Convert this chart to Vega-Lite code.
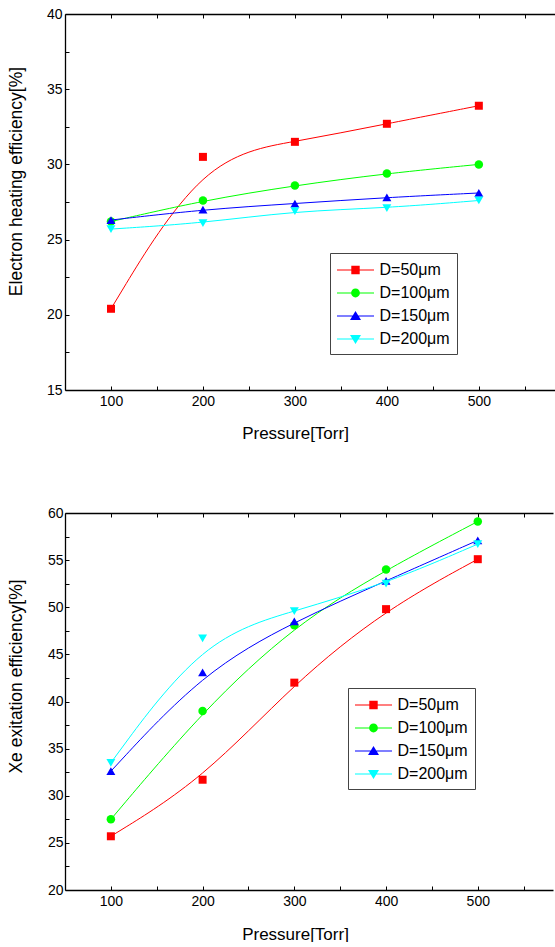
{
  "$schema": "https://vega.github.io/schema/vega-lite/v6.json",
  "padding": {"left": 7, "top": 7, "right": 0, "bottom": 0},
  "background": "white",
  "config": {
    "font": "Liberation Sans",
    "view": {"stroke": null},
    "axis": {
      "grid": false,
      "domainColor": "#000",
      "domainWidth": 1.3,
      "tickColor": "#000",
      "tickWidth": 1,
      "labelColor": "#000",
      "titleColor": "#000",
      "labelFontSize": 14,
      "titleFontSize": 17,
      "titleFontWeight": "normal",
      "labelFont": "Liberation Sans",
      "titleFont": "Liberation Sans",
      "labelFlush": false,
      "labelOverlap": false
    },
    "legend": {
      "labelFontSize": 16,
      "labelFont": "Liberation Sans",
      "labelColor": "#000",
      "symbolSize": 400,
      "symbolStrokeWidth": 0,
      "symbolOpacity": 1,
      "symbolOffset": 8.5,
      "strokeColor": "#444",
      "padding": 7,
      "rowPadding": 5,
      "labelOffset": 14
    }
  },
  "datasets": {
    "a": [
      {"pressure": 100, "value": 20.4, "series": "D=50μm"},
      {"pressure": 200, "value": 30.5, "series": "D=50μm"},
      {"pressure": 300, "value": 31.5, "series": "D=50μm"},
      {"pressure": 400, "value": 32.7, "series": "D=50μm"},
      {"pressure": 500, "value": 33.9, "series": "D=50μm"},
      {"pressure": 100, "value": 26.2, "series": "D=100μm"},
      {"pressure": 200, "value": 27.6, "series": "D=100μm"},
      {"pressure": 300, "value": 28.6, "series": "D=100μm"},
      {"pressure": 400, "value": 29.4, "series": "D=100μm"},
      {"pressure": 500, "value": 30.0, "series": "D=100μm"},
      {"pressure": 100, "value": 26.3, "series": "D=150μm"},
      {"pressure": 200, "value": 27.0, "series": "D=150μm"},
      {"pressure": 300, "value": 27.4, "series": "D=150μm"},
      {"pressure": 400, "value": 27.8, "series": "D=150μm"},
      {"pressure": 500, "value": 28.1, "series": "D=150μm"},
      {"pressure": 100, "value": 25.7, "series": "D=200μm"},
      {"pressure": 200, "value": 26.1, "series": "D=200μm"},
      {"pressure": 300, "value": 26.9, "series": "D=200μm"},
      {"pressure": 400, "value": 27.1, "series": "D=200μm"},
      {"pressure": 500, "value": 27.6, "series": "D=200μm"}
    ],
    "b": [
      {"pressure": 100, "value": 25.7, "series": "D=50μm"},
      {"pressure": 200, "value": 31.7, "series": "D=50μm"},
      {"pressure": 300, "value": 42.0, "series": "D=50μm"},
      {"pressure": 400, "value": 49.8, "series": "D=50μm"},
      {"pressure": 500, "value": 55.1, "series": "D=50μm"},
      {"pressure": 100, "value": 27.5, "series": "D=100μm"},
      {"pressure": 200, "value": 39.0, "series": "D=100μm"},
      {"pressure": 300, "value": 48.1, "series": "D=100μm"},
      {"pressure": 400, "value": 54.0, "series": "D=100μm"},
      {"pressure": 500, "value": 59.1, "series": "D=100μm"},
      {"pressure": 100, "value": 32.6, "series": "D=150μm"},
      {"pressure": 200, "value": 43.1, "series": "D=150μm"},
      {"pressure": 300, "value": 48.5, "series": "D=150μm"},
      {"pressure": 400, "value": 52.8, "series": "D=150μm"},
      {"pressure": 500, "value": 57.1, "series": "D=150μm"},
      {"pressure": 100, "value": 33.5, "series": "D=200μm"},
      {"pressure": 200, "value": 46.7, "series": "D=200μm"},
      {"pressure": 300, "value": 49.6, "series": "D=200μm"},
      {"pressure": 400, "value": 52.5, "series": "D=200μm"},
      {"pressure": 500, "value": 56.7, "series": "D=200μm"}
    ]
  },
  "spacing": 65,
  "resolve": {"scale": {"color": "independent", "shape": "independent"}, "legend": {"color": "independent", "shape": "independent"}},
  "vconcat": [
    {
      "width": 492,
      "height": 376,
      "data": {"name": "a"},
      "layer": [
        {
          "transform": [{"filter": "datum.series === 'D=50μm'"}],
          "mark": {"type": "line", "interpolate": "basis", "strokeWidth": 1, "color": "#ff0000", "point": {"filled": true, "shape": "square", "size": 64, "color": "#ff0000"}},
          "encoding": {
            "x": {"field": "pressure", "type": "quantitative", "scale": {"domain": [50, 585], "nice": false, "zero": false},
              "axis": {"orient": "bottom", "values": [100, 150, 200, 250, 300, 350, 400, 450, 500, 550], "labelExpr": "datum.value % 100 === 0 ? datum.label : ''", "tickSize": -4, "labelPadding": 8, "title": "Pressure[Torr]", "titleX": 230, "titleY": 35, "titleBaseline": "top"}},
            "y": {"field": "value", "type": "quantitative", "scale": {"domain": [15, 40], "nice": false, "zero": false},
              "axis": {"values": [15, 17.5, 20, 22.5, 25, 27.5, 30, 32.5, 35, 37.5, 40], "labelExpr": "datum.value % 5 === 0 ? datum.label : ''", "tickSize": -4, "labelPadding": 7, "title": "Electron heating efficiency[%]", "titleFontSize": 17.5, "titleX": -40, "titleY": 167, "titleBaseline": "bottom"}}
          }
        },
        {
          "transform": [{"filter": "datum.series === 'D=100μm'"}],
          "mark": {"type": "line", "interpolate": "basis", "strokeWidth": 1, "color": "#00ff00", "point": {"filled": true, "shape": "circle", "size": 72, "color": "#00ff00"}},
          "encoding": {
            "x": {"field": "pressure", "type": "quantitative", "axis": null},
            "y": {"field": "value", "type": "quantitative", "axis": null}
          }
        },
        {
          "transform": [{"filter": "datum.series === 'D=150μm'"}],
          "mark": {"type": "line", "interpolate": "basis", "strokeWidth": 1, "color": "#0000ff", "point": {"filled": true, "shape": "triangle-up", "size": 80, "color": "#0000ff"}},
          "encoding": {
            "x": {"field": "pressure", "type": "quantitative", "axis": null},
            "y": {"field": "value", "type": "quantitative", "axis": null}
          }
        },
        {
          "transform": [{"filter": "datum.series === 'D=200μm'"}],
          "mark": {"type": "line", "interpolate": "basis", "strokeWidth": 1, "color": "#00ffff", "point": {"filled": true, "shape": "triangle-down", "size": 80, "color": "#00ffff"}},
          "encoding": {
            "x": {"field": "pressure", "type": "quantitative", "axis": null},
            "y": {"field": "value", "type": "quantitative", "axis": null}
          }
        },
        {
          "mark": {"type": "point", "filled": true, "opacity": 0},
          "encoding": {
            "x": {"field": "pressure", "type": "quantitative",
              "axis": {"orient": "top", "values": [100, 150, 200, 250, 300, 350, 400, 450, 500, 550], "labels": false, "tickSize": -4, "title": null}},
            "y": {"field": "value", "type": "quantitative", "axis": null},
            "color": {"field": "series", "type": "nominal", "scale": {"domain": ["D=50μm", "D=100μm", "D=150μm", "D=200μm"], "range": ["#ff0000", "#00ff00", "#0000ff", "#00ffff"]}, "legend": {"title": null, "orient": "none", "legendX": 265, "legendY": 239, "symbolOpacity": 1}},
            "shape": {"field": "series", "type": "nominal", "scale": {"domain": ["D=50μm", "D=100μm", "D=150μm", "D=200μm"], "range": [
              "M-1.85,-0.05H1.85V0.05H-1.85ZM-0.42,-0.42H0.42V0.42H-0.42Z",
              "M-1.85,-0.05H1.85V0.05H-1.85ZM-0.44,0A0.44,0.44,0,1,1,0.44,0A0.44,0.44,0,1,1,-0.44,0Z",
              "M-1.85,-0.05H1.85V0.05H-1.85ZM0,-0.5L0.55,0.4L-0.55,0.4Z",
              "M-1.85,-0.05H1.85V0.05H-1.85ZM0,0.5L-0.55,-0.4L0.55,-0.4Z"
            ]}, "legend": {"title": null, "orient": "none", "legendX": 265, "legendY": 239, "symbolOpacity": 1}}
          }
        }
      ],
      "resolve": {"axis": {"x": "independent", "y": "independent"}}
    },
    {
      "width": 488,
      "height": 377,
      "data": {"name": "b"},
      "layer": [
        {
          "transform": [{"filter": "datum.series === 'D=50μm'"}],
          "mark": {"type": "line", "interpolate": "basis", "strokeWidth": 1, "color": "#ff0000", "point": {"filled": true, "shape": "square", "size": 64, "color": "#ff0000"}},
          "encoding": {
            "x": {"field": "pressure", "type": "quantitative", "scale": {"domain": [50, 582], "nice": false, "zero": false},
              "axis": {"orient": "bottom", "values": [100, 150, 200, 250, 300, 350, 400, 450, 500, 550], "labelExpr": "datum.value % 100 === 0 ? datum.label : ''", "tickSize": -4, "labelPadding": 8, "title": "Pressure[Torr]", "titleX": 230, "titleY": 36, "titleBaseline": "top"}},
            "y": {"field": "value", "type": "quantitative", "scale": {"domain": [20, 60], "nice": false, "zero": false},
              "axis": {"values": [20, 22.5, 25, 27.5, 30, 32.5, 35, 37.5, 40, 42.5, 45, 47.5, 50, 52.5, 55, 57.5, 60], "labelExpr": "datum.value % 5 === 0 ? datum.label : ''", "tickSize": -4, "labelPadding": 6, "title": "Xe exitation efficiency[%]", "titleFontSize": 17.5, "titleX": -40, "titleY": 163, "titleBaseline": "bottom"}}
          }
        },
        {
          "transform": [{"filter": "datum.series === 'D=100μm'"}],
          "mark": {"type": "line", "interpolate": "basis", "strokeWidth": 1, "color": "#00ff00", "point": {"filled": true, "shape": "circle", "size": 72, "color": "#00ff00"}},
          "encoding": {
            "x": {"field": "pressure", "type": "quantitative", "axis": null},
            "y": {"field": "value", "type": "quantitative", "axis": null}
          }
        },
        {
          "transform": [{"filter": "datum.series === 'D=150μm'"}],
          "mark": {"type": "line", "interpolate": "basis", "strokeWidth": 1, "color": "#0000ff", "point": {"filled": true, "shape": "triangle-up", "size": 80, "color": "#0000ff"}},
          "encoding": {
            "x": {"field": "pressure", "type": "quantitative", "axis": null},
            "y": {"field": "value", "type": "quantitative", "axis": null}
          }
        },
        {
          "transform": [{"filter": "datum.series === 'D=200μm'"}],
          "mark": {"type": "line", "interpolate": "basis", "strokeWidth": 1, "color": "#00ffff", "point": {"filled": true, "shape": "triangle-down", "size": 80, "color": "#00ffff"}},
          "encoding": {
            "x": {"field": "pressure", "type": "quantitative", "axis": null},
            "y": {"field": "value", "type": "quantitative", "axis": null}
          }
        },
        {
          "mark": {"type": "point", "filled": true, "opacity": 0},
          "encoding": {
            "x": {"field": "pressure", "type": "quantitative",
              "axis": {"orient": "top", "values": [100, 150, 200, 250, 300, 350, 400, 450, 500, 550], "labels": false, "tickSize": -4, "title": null}},
            "y": {"field": "value", "type": "quantitative", "axis": null},
            "color": {"field": "series", "type": "nominal", "scale": {"domain": ["D=50μm", "D=100μm", "D=150μm", "D=200μm"], "range": ["#ff0000", "#00ff00", "#0000ff", "#00ffff"]}, "legend": {"title": null, "orient": "none", "legendX": 283, "legendY": 175, "symbolOpacity": 1}},
            "shape": {"field": "series", "type": "nominal", "scale": {"domain": ["D=50μm", "D=100μm", "D=150μm", "D=200μm"], "range": [
              "M-1.85,-0.05H1.85V0.05H-1.85ZM-0.42,-0.42H0.42V0.42H-0.42Z",
              "M-1.85,-0.05H1.85V0.05H-1.85ZM-0.44,0A0.44,0.44,0,1,1,0.44,0A0.44,0.44,0,1,1,-0.44,0Z",
              "M-1.85,-0.05H1.85V0.05H-1.85ZM0,-0.5L0.55,0.4L-0.55,0.4Z",
              "M-1.85,-0.05H1.85V0.05H-1.85ZM0,0.5L-0.55,-0.4L0.55,-0.4Z"
            ]}, "legend": {"title": null, "orient": "none", "legendX": 283, "legendY": 175, "symbolOpacity": 1}}
          }
        }
      ],
      "resolve": {"axis": {"x": "independent", "y": "independent"}}
    }
  ]
}
